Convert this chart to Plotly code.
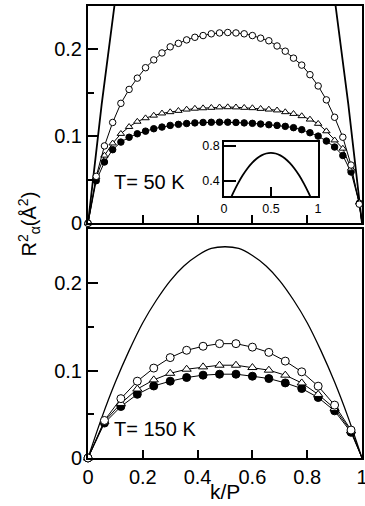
import plotly.graph_objects as go

# ---------------- data ----------------
# T = 50 K panel (top)
x_top = [0.00, 0.03, 0.06, 0.09, 0.12, 0.15, 0.18, 0.21, 0.24, 0.27, 0.30, 0.33,
         0.36, 0.39, 0.42, 0.45, 0.48, 0.51, 0.54, 0.57, 0.60, 0.63, 0.66, 0.69,
         0.72, 0.75, 0.78, 0.81, 0.84, 0.87, 0.90, 0.93, 0.96, 0.99, 1.00]
open_top = [0, 0.054, 0.089, 0.116, 0.138, 0.154, 0.167, 0.179, 0.188, 0.196, 0.203,
            0.207, 0.211, 0.214, 0.216, 0.218, 0.219, 0.2195, 0.219, 0.218, 0.216,
            0.213, 0.210, 0.204, 0.198, 0.190, 0.182, 0.171, 0.158, 0.142, 0.122,
            0.099, 0.067, 0.022, 0]
tri_top = [0, 0.053, 0.078, 0.092, 0.103, 0.111, 0.117, 0.121, 0.124, 0.1265, 0.128,
           0.1295, 0.131, 0.132, 0.1325, 0.133, 0.1335, 0.1337, 0.1335, 0.133, 0.1326,
           0.1318, 0.131, 0.130, 0.128, 0.126, 0.1234, 0.1195, 0.1146, 0.106, 0.0955,
           0.086, 0.063, 0.024, 0]
filled_top = [0, 0.049, 0.0705, 0.0847, 0.0934, 0.099, 0.103, 0.106, 0.1088, 0.1107,
              0.1126, 0.1138, 0.1148, 0.1155, 0.116, 0.1162, 0.1163, 0.1163, 0.116,
              0.1155, 0.115, 0.1142, 0.1134, 0.1126, 0.1115, 0.110, 0.1077, 0.1042,
              0.1003, 0.0946, 0.0877, 0.078, 0.059, 0.023, 0]

# T = 150 K panel (bottom)
x_bot = [0.00, 0.06, 0.12, 0.18, 0.24, 0.30, 0.36, 0.42, 0.48, 0.54, 0.60, 0.66,
         0.72, 0.78, 0.84, 0.90, 0.96, 1.00]
open_bot = [0, 0.043, 0.068, 0.088, 0.103, 0.115, 0.1234, 0.128, 0.131, 0.131, 0.127,
            0.121, 0.111, 0.0987, 0.0823, 0.0606, 0.032, 0]
tri_bot = [0, 0.042, 0.0625, 0.079, 0.0895, 0.097, 0.1017, 0.1044, 0.1063, 0.1063,
           0.1036, 0.1006, 0.0949, 0.086, 0.0728, 0.0568, 0.031, 0]
filled_bot = [0, 0.040, 0.059, 0.073, 0.0825, 0.088, 0.0922, 0.0949, 0.096, 0.096,
              0.0937, 0.091, 0.086, 0.0796, 0.0693, 0.054, 0.0294, 0]

# smooth reference curves
x_curve = [0.00, 0.05, 0.10, 0.15, 0.20, 0.25, 0.30, 0.35, 0.40, 0.45, 0.50,
           0.55, 0.60, 0.65, 0.70, 0.75, 0.80, 0.85, 0.90, 0.95, 1.00]
free_50 = [0, 0.137, 0.259, 0.367, 0.461, 0.540, 0.605, 0.655, 0.691, 0.713, 0.720,
           0.713, 0.691, 0.655, 0.605, 0.540, 0.461, 0.367, 0.259, 0.137, 0]
free_150 = [0, 0.046, 0.087, 0.123, 0.155, 0.181, 0.203, 0.220, 0.232, 0.240, 0.242,
            0.240, 0.232, 0.220, 0.203, 0.181, 0.155, 0.123, 0.087, 0.046, 0]

y_ticks = [0, 0.1, 0.2]
y_ticktext = ["0", "0.1", "0.2"]
x_ticks = [0, 0.2, 0.4, 0.6, 0.8, 1.0]
x_ticktext = ["0", "0.2", "0.4", "0.6", "0.8", "1"]
inset_xticks = [0, 0.5, 1]
inset_xtext = ["0", "0.5", "1"]
inset_yticks = [0.4, 0.8]
inset_ytext = ["0.4", "0.8"]

FONT = "Liberation Sans, Arial, sans-serif"

fig = go.Figure()


def add_series(x, y, symbol, fill, size, xa, ya):
    fig.add_trace(go.Scatter(x=x, y=y, mode="lines", xaxis=xa, yaxis=ya,
                             line=dict(color="black", width=1),
                             showlegend=False, hoverinfo="skip"))
    fig.add_trace(go.Scatter(x=x[:-1], y=y[:-1], mode="markers", xaxis=xa, yaxis=ya,
                             marker=dict(symbol=symbol, size=size, color=fill,
                                         line=dict(color="black", width=1)),
                             cliponaxis=False, showlegend=False))


# top panel
fig.add_trace(go.Scatter(x=x_curve, y=free_50, mode="lines", xaxis="x2", yaxis="y2",
                         line=dict(color="black", width=1.8, shape="spline"),
                         showlegend=False))
add_series(x_top, filled_top, "circle", "black", 6.5, "x2", "y2")
add_series(x_top, tri_top, "triangle-up", "white", 6.5, "x2", "y2")
add_series(x_top, open_top, "circle", "white", 6.5, "x2", "y2")

# inset
fig.add_trace(go.Scatter(x=x_curve, y=free_50, mode="lines", xaxis="x3", yaxis="y3",
                         line=dict(color="black", width=1.8, shape="spline"),
                         showlegend=False))

# bottom panel
fig.add_trace(go.Scatter(x=x_curve, y=free_150, mode="lines", xaxis="x", yaxis="y",
                         line=dict(color="black", width=1.3, shape="spline"),
                         showlegend=False))
add_series(x_bot, filled_bot, "circle", "black", 8, "x", "y")
add_series(x_bot, tri_bot, "triangle-up", "white", 8, "x", "y")
add_series(x_bot, open_bot, "circle", "white", 8, "x", "y")

common = dict(showline=True, linecolor="black", linewidth=2, mirror=True,
              ticks="inside", tickcolor="black", tickwidth=2, showgrid=False,
              zeroline=False, automargin=False, ticklabeloverflow="allow",
              tickfont=dict(family=FONT, size=20, color="black"))
minor_y = dict(tickmode="array", tickvals=[0.05, 0.15], ticks="inside", ticklen=6,
               tickcolor="black", tickwidth=2, showgrid=False)
inset_common = dict(showline=True, linecolor="black", linewidth=1.6, mirror=True,
                    ticks="inside", tickcolor="black", tickwidth=1.6, showgrid=False,
                    zeroline=False, automargin=False,
                    tickfont=dict(family=FONT, size=12.5, color="black"))

fig.update_layout(
    width=365, height=506,
    margin=dict(l=88, r=3, t=6, b=48),
    paper_bgcolor="white", plot_bgcolor="white",
    font=dict(family=FONT, color="black"),
    xaxis=dict(domain=[0, 1], anchor="y", range=[0, 1], tickmode="array",
               tickvals=x_ticks, ticktext=x_ticktext, ticklen=8, **common),
    yaxis=dict(domain=[0, 0.506], anchor="x", range=[0, 0.262], tickmode="array",
               tickvals=y_ticks, ticktext=y_ticktext, ticklen=10, minor=minor_y, **common),
    xaxis2=dict(domain=[0, 1], anchor="y2", range=[0, 1], tickmode="array",
                tickvals=[0.2, 0.4, 0.6, 0.8], showticklabels=False, ticklen=8, **common),
    yaxis2=dict(domain=[0.5193, 1], anchor="x2", range=[0, 0.25], tickmode="array",
                tickvals=y_ticks, ticktext=y_ticktext, ticklen=10, minor=minor_y, **common),
    xaxis3=dict(domain=[0.496, 0.839], anchor="y3", range=[0, 1], tickmode="array",
                tickvals=inset_xticks, ticktext=inset_xtext, ticklen=9, **inset_common),
    yaxis3=dict(domain=[0.5796, 0.6998], anchor="x3", range=[0.22, 0.85], tickmode="array",
                tickvals=inset_yticks, ticktext=inset_ytext, ticklen=12, **inset_common),
    annotations=[
        dict(text="T= 50 K", xref="x2", yref="y2", x=0.086, y=0.047, xanchor="left",
             yanchor="middle", showarrow=False, font=dict(family=FONT, size=20)),
        dict(text="T= 150 K", xref="x", yref="y", x=0.086, y=0.0328, xanchor="left",
             yanchor="middle", showarrow=False, font=dict(family=FONT, size=20)),
        dict(text="R<sup>2</sup><sub>α</sub>(Å<sup>2</sup>)", xref="paper", yref="paper",
             x=-0.213, y=0.518, xanchor="center", yanchor="middle", textangle=-90,
             showarrow=False, font=dict(family=FONT, size=20)),
        dict(text="k/P", xref="paper", yref="paper", x=0.5, y=-0.0752,
             xanchor="center", yanchor="middle", showarrow=False,
             font=dict(family=FONT, size=21)),
    ],
)

fig.write_html("out.html", config={"displayModeBar": False},
               post_script="document.body.style.margin='0';document.body.style.padding='0';")
